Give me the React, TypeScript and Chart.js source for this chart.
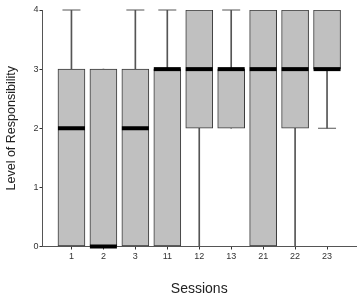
import React, { useEffect, useRef } from "react";
import { Chart, registerables } from "chart.js";

Chart.register(...registerables);

const categories = ["1", "2", "3", "11", "12", "13", "21", "22", "23"];
const minVals = [0, 0, 0, 0, 0, 2, 0, 0, 2];
const q1Vals = [0, 0, 0, 0, 2, 2, 0, 2, 3];
const medianVals = [2, 0, 2, 3, 3, 3, 3, 3, 3];
const q3Vals = [3, 3, 3, 3, 4, 3, 4, 4, 4];
const maxVals = [4, 3, 4, 4, 4, 4, 4, 4, 4];
const yTicks = [0, 1, 2, 3, 4];

const FONT = "'Liberation Sans', Arial, sans-serif";

export default function App() {
  const ref = useRef<HTMLCanvasElement | null>(null);

  useEffect(() => {
    if (!ref.current) return;
    const pos = categories.map((_, i) => i + 1);
    const whiskers = pos.map((x, i) => ({ x, y: [minVals[i], maxVals[i]] }));
    const boxes = pos.map((x, i) => ({ x, y: [q1Vals[i], q3Vals[i]] }));
    const medians = pos.map((x, i) => ({ x, y: medianVals[i] }));
    const capsHigh = pos.map((x, i) => ({ x, y: maxVals[i] > q3Vals[i] ? maxVals[i] : null }));
    const capsLow = pos.map((x, i) => ({ x, y: minVals[i] < q1Vals[i] ? minVals[i] : null }));

    const chart = new Chart(ref.current, {
      type: "bar",
      data: {
        datasets: [
          {
            type: "bar",
            data: whiskers as any,
            backgroundColor: "#555555",
            borderWidth: 0,
            barThickness: 1,
            grouped: false,
            order: 4,
          } as any,
          {
            type: "bar",
            data: boxes as any,
            backgroundColor: "#c0c0c0",
            borderColor: "#3a3a3a",
            borderWidth: 1,
            borderSkipped: false,
            barThickness: 27,
            grouped: false,
            order: 3,
          } as any,
          {
            type: "scatter",
            data: capsHigh as any,
            pointStyle: "line",
            radius: 9,
            borderColor: "#555555",
            borderWidth: 1,
            clip: false,
            order: 2,
          } as any,
          {
            type: "scatter",
            data: capsLow as any,
            pointStyle: "line",
            radius: 9,
            borderColor: "#555555",
            borderWidth: 1,
            clip: false,
            order: 2,
          } as any,
          {
            type: "scatter",
            data: medians as any,
            pointStyle: "line",
            radius: 13.5,
            borderColor: "#000000",
            borderWidth: 4,
            clip: false,
            order: 1,
          } as any,
        ],
      },
      options: {
        animation: false,
        responsive: true,
        maintainAspectRatio: false,
        layout: { autoPadding: false, padding: { left: 0, top: 10, right: 6, bottom: 0 } },
        plugins: { legend: { display: false }, tooltip: { enabled: false } },
        scales: {
          x: {
            type: "linear",
            offset: false,
            min: 1 - 29 / 32,
            max: categories.length + 29 / 32,
            afterBuildTicks: (scale: any) => {
              scale.ticks = pos.map((v) => ({ value: v }));
            },
            afterFit: (scale: any) => {
              scale.height = 52.5;
            },
            ticks: {
              autoSkip: false,
              maxRotation: 0,
              padding: 2,
              color: "#333333",
              font: { family: FONT, size: 9 },
              callback: (v: any) => categories[Math.round(v) - 1] ?? "",
            },
            grid: {
              offset: false,
              drawOnChartArea: false,
              drawTicks: true,
              tickLength: 3,
              color: "#333333",
            },
            border: { display: true, color: "#555555", width: 1 },
            title: {
              display: true,
              text: "Sessions",
              color: "#222222",
              font: { family: FONT, size: 14 },
              padding: { top: 0, bottom: 1 },
            },
          },
          y: {
            type: "linear",
            min: 0,
            max: 4,
            afterBuildTicks: (scale: any) => {
              scale.ticks = yTicks.map((v) => ({ value: v }));
            },
            afterFit: (scale: any) => {
              scale.width = 42.5;
            },
            ticks: {
              padding: 1,
              color: "#333333",
              font: { family: FONT, size: 9 },
              callback: (v: any) => String(v),
            },
            grid: {
              drawOnChartArea: false,
              drawTicks: true,
              tickLength: 3,
              color: "#333333",
            },
            border: { display: true, color: "#555555", width: 1 },
            title: {
              display: true,
              text: "Level of Responsibility",
              color: "#222222",
              font: { family: FONT, size: 12.5 },
              padding: { top: 4.5, bottom: 0 },
            },
          },
        },
      },
    });
    return () => chart.destroy();
  }, []);

  return (
    <div style={{ position: "absolute", left: 0, top: 0, width: 362, height: 299, background: "#ffffff" }}>
      <canvas ref={ref} />
    </div>
  );
}
